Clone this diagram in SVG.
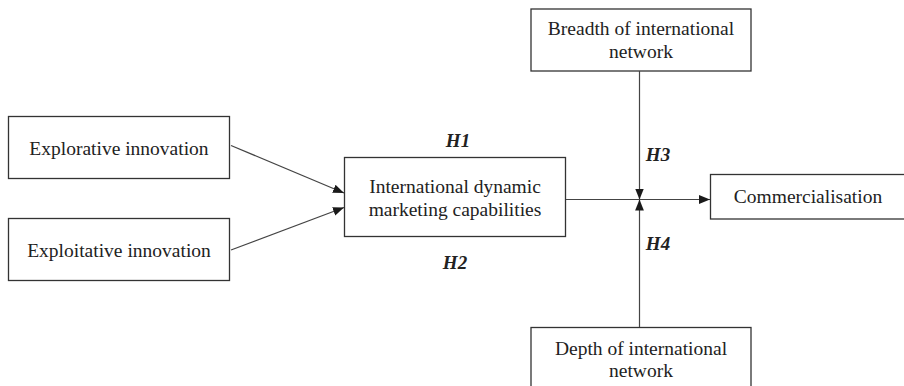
<svg xmlns="http://www.w3.org/2000/svg" width="904" height="386" viewBox="0 0 904 386">
<defs>
<marker id="arr" viewBox="0 0 10 10" refX="10" refY="5" markerWidth="11" markerHeight="11" markerUnits="userSpaceOnUse" orient="auto">
<path d="M0,1 L10,5 L0,9 Z" fill="#1a1a1a"/>
</marker>
</defs>
<style>
.box{fill:#fff;stroke:#333;stroke-width:1.3}
.t{font-family:"Liberation Serif","Times New Roman",serif;font-size:19.5px;fill:#222;text-anchor:middle}
.h{font-family:"Liberation Serif","Times New Roman",serif;font-size:19px;font-weight:bold;font-style:italic;fill:#222;text-anchor:middle}
.c{stroke:#444;stroke-width:1.2;fill:none}
</style>
<rect width="904" height="386" fill="#fff"/>
<g id="explorative">
<rect class="box" x="8.5" y="116.5" width="221" height="62"/>
<text class="t" x="119" y="155">Explorative innovation</text>
</g>
<g id="exploitative">
<rect class="box" x="8.5" y="218.5" width="221" height="62"/>
<text class="t" x="119" y="256.5">Exploitative innovation</text>
</g>
<g id="idmc">
<rect class="box" x="344.5" y="157.5" width="221" height="79"/>
<text class="t" x="455" y="193">International dynamic</text>
<text class="t" x="455" y="216">marketing capabilities</text>
</g>
<g id="breadth">
<rect class="box" x="531" y="9" width="220" height="62"/>
<text class="t" x="641" y="35">Breadth of international</text>
<text class="t" x="641" y="58">network</text>
</g>
<g id="depth">
<rect class="box" x="531" y="327.5" width="220" height="70"/>
<text class="t" x="641" y="355">Depth of international</text>
<text class="t" x="641" y="377">network</text>
</g>
<g id="commercialisation">
<rect class="box" x="710.5" y="174.5" width="205" height="44.5"/>
<text class="t" x="808" y="203">Commercialisation</text>
</g>
<g id="connectors">
<line class="c" x1="231" y1="145.5" x2="344" y2="193" marker-end="url(#arr)"/>
<line class="c" x1="231" y1="250" x2="344" y2="207.5" marker-end="url(#arr)"/>
<line class="c" x1="566" y1="199.5" x2="710" y2="199.5" marker-end="url(#arr)"/>
<line class="c" x1="639.5" y1="71" x2="639.5" y2="199.5" marker-end="url(#arr)"/>
<line class="c" x1="639.5" y1="327" x2="639.5" y2="199.5" marker-end="url(#arr)"/>
</g>
<g id="labels">
<text class="h" x="458" y="147">H1</text>
<text class="h" x="455" y="269">H2</text>
<text class="h" x="658" y="161">H3</text>
<text class="h" x="658" y="250">H4</text>
</g>
</svg>
